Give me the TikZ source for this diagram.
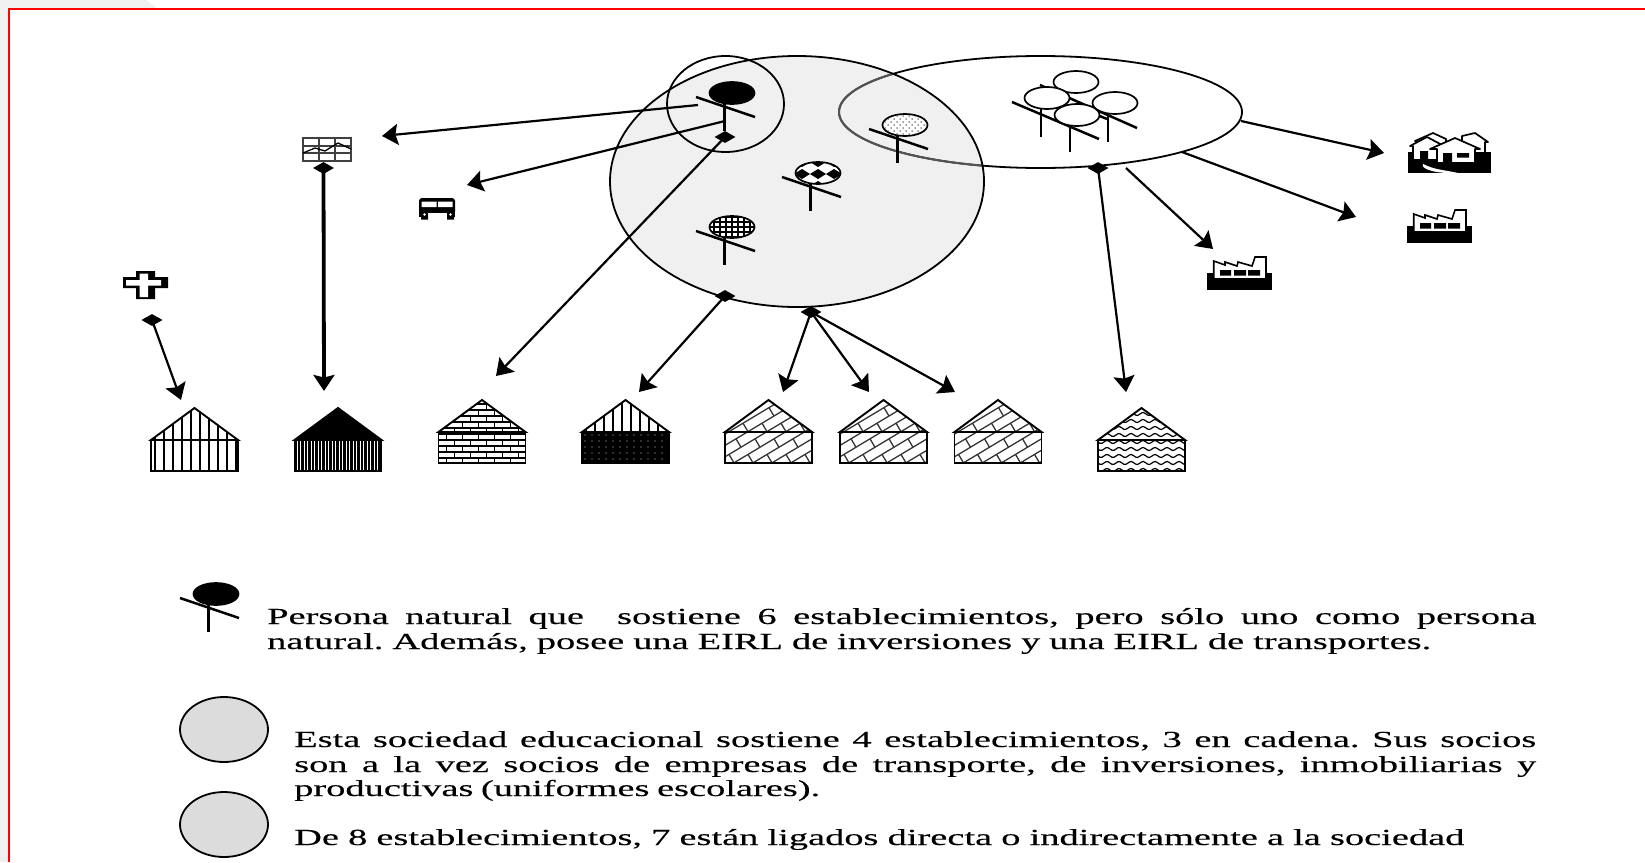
\documentclass[tikz,border=0pt]{standalone}
\usepackage{fontspec}
\setmainfont{Liberation Serif}
\newfontfamily\lgd[FakeStretch=1.67,FakeBold=0.3]{Liberation Serif}
\frenchspacing
\usetikzlibrary{arrows.meta,shapes.geometric}
\definecolor{soc}{HTML}{F0F0F0}
\definecolor{lg}{HTML}{DCDCDC}
\tikzset{
  conn/.style={line width=2.2pt,-{Stealth[length=16pt,width=21pt,inset=2.5pt]}},
  dia/.style={shape=diamond,fill=black,minimum width=21pt,minimum height=12pt,inner sep=0pt,aspect=2},
  ring/.style={shape=ellipse,draw=black,line width=1.8pt,inner sep=0pt},
  hd/.style={shape=ellipse,draw=black,line width=1.7pt,inner sep=0pt,minimum width=45pt,minimum height=22pt},
  lgtext/.style={anchor=base west,inner sep=0pt,font=\lgd\fontsize{23}{24.5}\selectfont},
  stick/.style={line width=2.5pt},
  thinl/.style={line width=1.2pt},
}
% stick figure: crossbar and stem hanging off a head centred at (#1,#2)
\newcommand{\stickfig}[2]{%
  \draw[stick] (#1-36,#2+4) -- (#1+23,#2+24);
  \draw[stick] (#1-7.5,#2+11) -- (#1-7.5,#2+38);
}
% house: origin at (left, apex); 87 wide, roof 32, walls 31
\newcommand{\hs}[4]{%
  \begin{scope}[shift={(#1,#2)}]
    \begin{scope}\clip (0,32) -- (43.5,0) -- (87,32) -- cycle; #3 \end{scope}
    \begin{scope}\clip (0,32) rectangle (87,63); #4 \end{scope}
    \draw[line width=1.9pt,line join=miter] (0,32) -- (43.5,0) -- (87,32) -- cycle;
    \draw[line width=1.9pt] (0,32) rectangle (87,63);
  \end{scope}}
\newcommand{\pvert}{\foreach \i in {4,13,...,85} \draw[line width=1.7pt] (\i,0) -- (\i,64);}
\newcommand{\pdense}{\foreach \i in {1,4.5,...,87} \draw[line width=2.1pt] (\i,30) -- (\i,64);}
\newcommand{\pblack}{\fill (0,0) rectangle (87,64);}
\newcommand{\pdots}{\fill (0,30) rectangle (87,64);
  \foreach \a in {3,10,...,87} \foreach \b in {35,41,...,63} \fill[white!80!black] (\a,\b) circle (0.7);}
\newcommand{\pbrick}{%
  \foreach \b in {4,10,...,64} \draw[thinl] (0,\b) -- (87,\b);
  \foreach \b/\o in {4/0,10/8,16/0,22/8,28/0,34/8,40/0,46/8,52/0,58/8}
    \foreach \a in {0,16,...,88} \draw[thinl] (\a+\o,\b) -- (\a+\o,\b+6);}
\newcommand{\pdiag}{%
  \foreach \k in {-60,-41,...,92} {
    \draw[line width=1.3pt,black!80] (\k,70) -- (\k+120,-2);
    \foreach \t in {0,26,...,130} {
      \pgfmathsetmacro{\px}{\k+\t}
      \pgfmathsetmacro{\py}{70-0.6*\t}
      \draw[line width=1.3pt,black!80] (\px,\py) -- (\px+5,\py+8.5);
    }}}
\newcommand{\pwave}{%
  \foreach \r in {6,13,...,62}
    \draw[line width=1.2pt] plot[smooth,domain=0:87,samples=45] (\x,{\r+1.5*sin(\x*30)});}
\begin{document}
\begin{tikzpicture}[x=1pt,y=-1pt]
\useasboundingbox (0,0) rectangle (1645,862);
% page edge
\fill[soc] (0,0) -- (146,0) -- (158,9) -- (9,9) -- (9,862) -- (0,862) -- cycle;
\draw[red,line width=2pt] (1645,9) -- (9,9) -- (9,862);

% ---- ellipses
\node[ring,fill=soc,minimum width=374pt,minimum height=251pt] (socA) at (797,181.5) {};
\node[ring,minimum width=403pt,minimum height=112pt] (socB) at (1040.5,112) {};
\begin{scope}
  \clip (797,181.5) ellipse [x radius=186,y radius=124.5];
  \draw[color=black!65!soc,line width=2pt] (1040.5,112) ellipse [x radius=201.5,y radius=56];
\end{scope}
\node[ring,minimum width=117pt,minimum height=96pt] (own) at (725.5,104) {};

% ---- figures in the society
\node[hd,fill=black] (pBlack) at (732,93) {};
\stickfig{732}{93}
\node[hd,fill=white] (pDots) at (905,125) {};
\begin{scope}\clip (905,125) ellipse [x radius=21,y radius=10];
  \foreach \a in {-20,-14,...,20} \foreach \b in {-9,-3,...,9} \fill[black!80] (905+\a,125+\b) circle (0.75);
  \foreach \a in {-17,-11,...,20} \foreach \b in {-6,0,...,9} \fill[black!80] (905+\a,125+\b) circle (0.75);
\end{scope}
\stickfig{905}{125}
\node[hd,fill=white] (pBall) at (818,173) {};
\begin{scope}\clip (818,173) ellipse [x radius=22,y radius=10.5];
  \foreach \a/\b in {0/1,-16/1,16/1,0/-11,0/13,-16/-11,16/-11,-16/13,16/13}
    \fill (818+\a,173+\b-5) -- ++(8,5) -- ++(-8,5) -- ++(-8,-5) -- cycle;
\end{scope}
\stickfig{818}{173}
\node[hd,fill=white] (pGrid) at (732,227) {};
\begin{scope}\clip (732,227) ellipse [x radius=22,y radius=10.5];
  \foreach \a in {-18,-12,...,20} \draw[thinl] (732+\a,215) -- (732+\a,239);
  \foreach \b in {-10,-5,...,10} \draw[thinl] (708,227+\b) -- (756,227+\b);
\end{scope}
\stickfig{732}{227}

% ---- group of figures in the second ellipse
\draw[stick] (1012,102) -- (1099,139);
\draw[stick] (1040,85) -- (1137,128);
\draw[stick] (1078,107) -- (1107,119);
\draw[stick] (1041,105) -- (1041,137);
\draw[stick] (1070,120) -- (1070,152);
\draw[stick] (1108,110) -- (1108,142);
\node[hd,fill=white] (pA) at (1076,82) {};
\node[hd,fill=white] (pB) at (1047,98) {};
\node[hd,fill=white] (pC) at (1077,115) {};
\node[hd,fill=white] (pD) at (1115,103) {};

% ---- chart
\node[draw=black!75,line width=1.4pt,minimum width=48pt,minimum height=23pt,inner sep=0pt] (chart) at (327,149.5) {};
\draw[black!75,line width=1.2pt] (319,138) -- (319,161) (335,138) -- (335,161) (303,146) -- (351,146) (303,153) -- (351,153);
\draw[line width=1.3pt] (303,153) -- (315,148) -- (325,151) -- (338,143) -- (351,149);

% ---- bus
\node[inner sep=0pt,minimum width=36pt,minimum height=21pt] (bus) at (437,208.5) {};
\fill[rounded corners=3pt] (419,198) rectangle (455,215);
\fill (419,212) rectangle (455,217);
\fill[white] (421.5,201.5) rectangle (436.5,207) (438,201.5) rectangle (452.5,207);
\fill[white] (427,213) rectangle (448,217);
\fill (421,213) rectangle (428,219.5) (447,213) rectangle (454,219.5);
\fill[white] (424.5,214.5) circle (1.3) (450.5,214.5) circle (1.3);

% ---- cross
\node[inner sep=0pt,minimum width=45pt,minimum height=28pt] (cross) at (145.5,285) {};
\fill (136,271) rectangle (155,299) (123,277) rectangle (168,288);
\fill[white] (139.5,273.5) rectangle (148,297) (126,280) rectangle (161,285.5);

% ---- right icons
\node[inner sep=0pt,minimum width=83pt,minimum height=40pt] (homes) at (1449.5,153) {};
\fill (1408,152) rectangle (1491,173);
\fill[white] (1423,164) .. controls (1435,170) and (1445,170) .. (1458,173) .. controls (1440,174) and (1420,170) .. (1423,164) -- cycle;
\draw[fill=white,line width=1.7pt,line join=round] (1415,141) -- (1433,133) -- (1446,139) -- (1446,150) -- (1425,150) -- cycle;
\draw[fill=white,line width=1.7pt,line join=round] (1462,136) -- (1475,133) -- (1488,142) -- (1485,142) -- (1485,153) -- (1462,153) -- cycle;
\draw[fill=white,line width=1.7pt,line join=round] (1410,146) -- (1427,137) -- (1444,146) -- (1437,146) -- (1437,160) -- (1413,160) -- (1413,146) -- cycle;
\draw[fill=white,line width=1.7pt,line join=round] (1430,149) -- (1455,138) -- (1480,149) -- (1475,149) -- (1475,163) -- (1437,163) -- (1437,149) -- cycle;
\fill (1420,151) rectangle (1428,160) (1443,153) rectangle (1452,163) (1457,153) rectangle (1469,157.5);
\foreach \nm/\fx/\fy in {facA/1407/210,facB/1207/257} {
  \node[inner sep=0pt,minimum width=65pt,minimum height=33pt] (\nm) at (\fx+32.5,\fy+16.5) {};
  \begin{scope}[shift={(\fx,\fy)}]
    \fill (0,16) rectangle (65,33);
    \draw[fill=white,line width=1.6pt,line join=miter] (6.7,4) -- (18,8) -- (18,5) -- (30,9) -- (31,5) -- (45,9) -- (48,0) -- (59,0) -- (59,22) -- (6.7,22) -- cycle;
    \fill (13,13) rectangle (24,18.5) (27,13) rectangle (39,18.5) (41,13) rectangle (53,18.5);
  \end{scope}}

% ---- schools
\hs{151}{408}{\pvert}{\pvert}
\hs{294.5}{408}{\pblack}{\pdense}
\hs{438.5}{400}{\pbrick}{\pbrick}
\hs{582}{400}{\pvert}{\pdots}
\hs{725}{400}{\pdiag}{\pdiag}
\hs{840}{400}{\pdiag}{\pdiag}
\hs{954.5}{400}{\pdiag}{\pdiag}
\hs{1098}{408}{\pwave}{\pwave}

% ---- connector ends
\coordinate (fromOwnA) at (698,105);
\coordinate (fromOwnB) at (725,121);
\coordinate (toChart) at (382,136);
\coordinate (toBus) at (467,185);
\coordinate (toSchB) at (324,391);
\coordinate (toSchA) at (181,400);
\coordinate (toSchC) at (496,376);
\coordinate (toSchD) at (639,392);
\coordinate (toSchE) at (783,392);
\coordinate (toSchF) at (869,392);
\coordinate (toSchG) at (955,392);
\coordinate (toSchH) at (1126,392);
\coordinate (fromB1) at (1241,121);
\coordinate (fromB2) at (1182,152);
\coordinate (fromB3) at (1126,168);
\coordinate (toHomes) at (1384,153);
\coordinate (toFacA) at (1356,217);
\coordinate (toFacB) at (1213,249);

\node[dia] (dOwn) at (725,137) {};
\node[dia] (dSocL) at (725,296) {};
\node[dia] (dSocH) at (811,312) {};
\node[dia] (dChart) at (323.5,168) {};
\node[dia] (dCross) at (152,320) {};
\node[dia] (dGroup) at (1098,168) {};

\draw[conn] (fromOwnA) -- (toChart);
\draw[conn] (fromOwnB) -- (toBus);
\draw[conn] (dOwn.center) -- (toSchC);
\draw[conn] (dSocL.center) -- (toSchD);
\draw[conn] (dSocH.center) -- (toSchE);
\draw[conn] (dSocH.center) -- (toSchF);
\draw[conn] (dSocH.center) -- (toSchG);
\draw[conn] (dGroup.center) -- (toSchH);
\draw[conn,line width=3.8pt] (dChart.center) -- (toSchB);
\draw[conn] (dCross.center) -- (toSchA);
\draw[conn] (fromB1) -- (toHomes);
\draw[conn] (fromB2) -- (toFacA);
\draw[conn] (fromB3) -- (toFacB);

% ---- legend
\node[hd,fill=black] (lgP) at (216,594) {};
\stickfig{216}{594}
\node[ring,fill=lg,minimum width=88pt,minimum height=65pt] (lgA) at (224,729.5) {};
\node[ring,fill=lg,minimum width=88pt,minimum height=65pt] (lgB) at (224,824.5) {};
\node[lgtext] (t1) at (267,624) {\makebox[1269pt][s]{Persona natural que\ \ sostiene 6 establecimientos, pero sólo uno como persona}};
\node[lgtext] (t2) at (267,649) {\makebox[1164pt][s]{natural. Además, posee una EIRL de inversiones y una EIRL de transportes.}};
\node[lgtext] (t3) at (294,747) {\makebox[1242pt][s]{Esta sociedad educacional sostiene 4 establecimientos, 3 en cadena. Sus socios}};
\node[lgtext] (t4) at (294,772) {\makebox[1242pt][s]{son a la vez socios de empresas de transporte, de inversiones, inmobiliarias y}};
\node[lgtext] (t5) at (294,796) {\makebox[526pt][s]{productivas (uniformes escolares).}};
\node[lgtext] (t6) at (294,845) {\makebox[1170pt][s]{De 8 establecimientos, 7 están ligados directa o indirectamente a la sociedad}};
\end{tikzpicture}
\end{document}
